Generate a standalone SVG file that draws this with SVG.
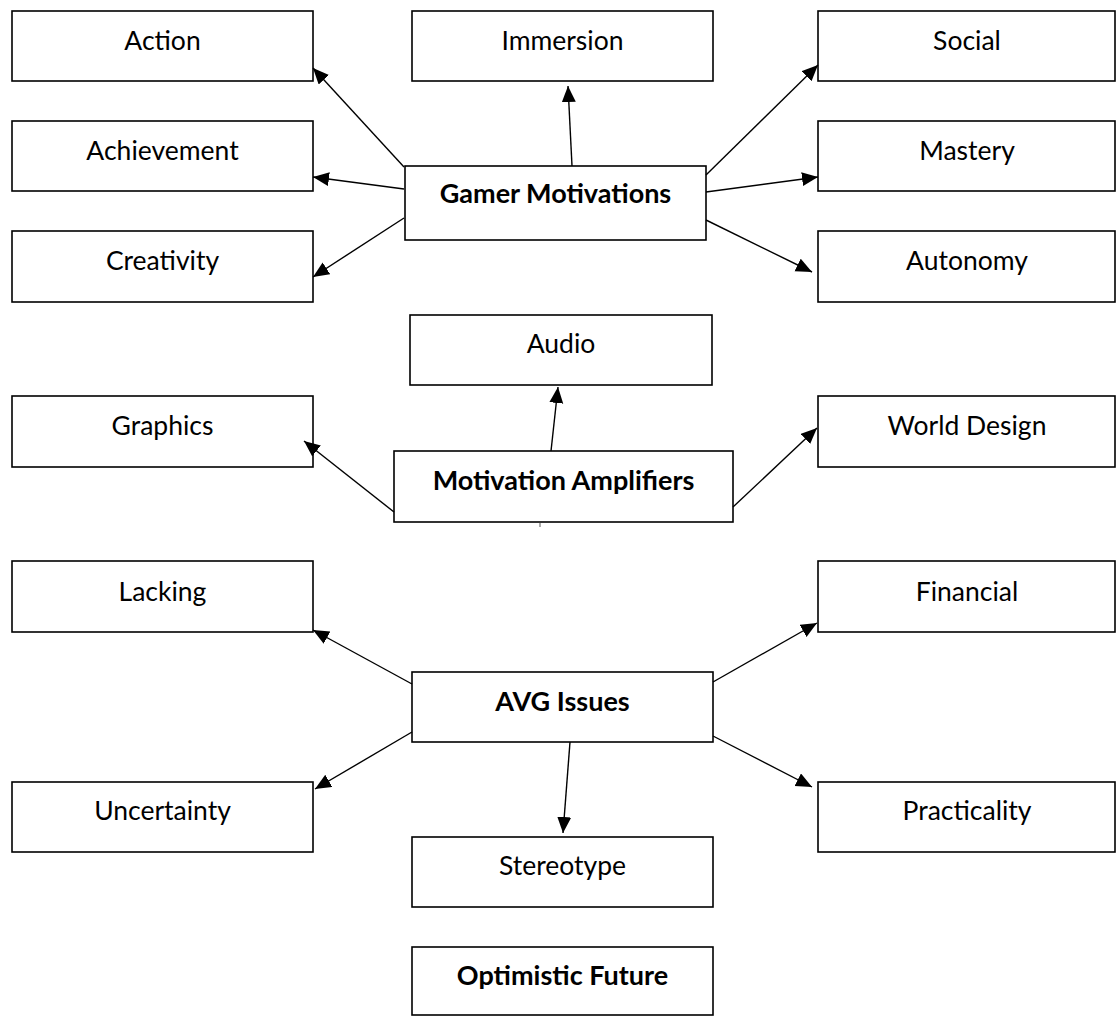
<svg xmlns="http://www.w3.org/2000/svg" width="1116" height="1016" viewBox="0 0 1116 1016">
<style>
rect.b{fill:#fff;stroke:#000;stroke-width:1.6}
text{font-family:Lato,"Open Sans","Liberation Sans",sans-serif;font-size:26.5px;fill:#000;text-anchor:middle}
text.h{font-weight:bold;font-size:27px}
.c line{stroke:#000;stroke-width:1.4;marker-end:url(#ah)}
</style>
<defs>
<marker id="ah" markerUnits="userSpaceOnUse" markerWidth="18" markerHeight="16" refX="16" refY="7" orient="auto" viewBox="0 0 18 16">
<path d="M0,0 L16,7 L0,14 z" fill="#000"/>
</marker>
</defs>
<rect width="1116" height="1016" fill="#fff"/>
<g id="action"><rect class="b" x="12" y="11" width="301" height="70"/><text x="162.5" y="50">Action</text></g>
<g id="immersion"><rect class="b" x="412" y="11" width="301" height="70"/><text x="562.5" y="50">Immersion</text></g>
<g id="social"><rect class="b" x="818" y="11" width="297" height="70"/><text x="967" y="50">Social</text></g>
<g id="achievement"><rect class="b" x="12" y="121" width="301" height="70"/><text x="162.5" y="160">Achievement</text></g>
<g id="mastery"><rect class="b" x="818" y="121" width="297" height="70"/><text x="967" y="160">Mastery</text></g>
<g id="gamer-motivations"><rect class="b" x="405" y="166" width="301" height="74"/><text class="h" x="555.5" y="203">Gamer Motivations</text></g>
<g id="creativity"><rect class="b" x="12" y="231" width="301" height="71"/><text x="162.5" y="270">Creativity</text></g>
<g id="autonomy"><rect class="b" x="818" y="231" width="297" height="71"/><text x="967" y="270">Autonomy</text></g>
<g id="audio"><rect class="b" x="410" y="315" width="302" height="70"/><text x="561" y="353">Audio</text></g>
<g id="graphics"><rect class="b" x="12" y="396" width="301" height="71"/><text x="162.5" y="435">Graphics</text></g>
<g id="world-design"><rect class="b" x="818" y="396" width="297" height="71"/><text x="967" y="435">World Design</text></g>
<g id="motivation-amplifiers"><rect class="b" x="394" y="451" width="339" height="71"/><text class="h" x="563.5" y="490">Motivation Amplifiers</text></g>
<g id="lacking"><rect class="b" x="12" y="561" width="301" height="71"/><text x="162.5" y="601">Lacking</text></g>
<g id="financial"><rect class="b" x="818" y="561" width="297" height="71"/><text x="967" y="601">Financial</text></g>
<g id="avg-issues"><rect class="b" x="412" y="672" width="301" height="70"/><text class="h" x="562.5" y="711">AVG Issues</text></g>
<g id="uncertainty"><rect class="b" x="12" y="782" width="301" height="70"/><text x="162.5" y="820">Uncertainty</text></g>
<g id="practicality"><rect class="b" x="818" y="782" width="297" height="70"/><text x="967" y="820">Practicality</text></g>
<g id="stereotype"><rect class="b" x="412" y="837" width="301" height="70"/><text x="562.5" y="875">Stereotype</text></g>
<g id="optimistic-future"><rect class="b" x="412" y="947" width="301" height="68"/><text class="h" x="562.5" y="985">Optimistic Future</text></g>
<g id="connectors" class="c">
<line x1="404" y1="167" x2="313" y2="68"/>
<line x1="404" y1="189" x2="313" y2="177"/>
<line x1="404" y1="218" x2="313" y2="277"/>
<line x1="572" y1="166" x2="568" y2="86"/>
<line x1="706" y1="175" x2="818" y2="65"/>
<line x1="706" y1="192" x2="818" y2="177"/>
<line x1="706" y1="220" x2="812" y2="272"/>
<line x1="551" y1="451" x2="558" y2="387"/>
<line x1="394" y1="512" x2="304" y2="441"/>
<line x1="733" y1="507" x2="817" y2="428"/>
<line x1="412" y1="684" x2="313" y2="630"/>
<line x1="412" y1="732" x2="315" y2="789"/>
<line x1="713" y1="682" x2="817" y2="623"/>
<line x1="713" y1="736" x2="812" y2="787"/>
<line x1="570" y1="742" x2="563" y2="833"/>
<path d="M540,523 L540,527" stroke="#555" stroke-width="1"/>
</g>
</svg>
